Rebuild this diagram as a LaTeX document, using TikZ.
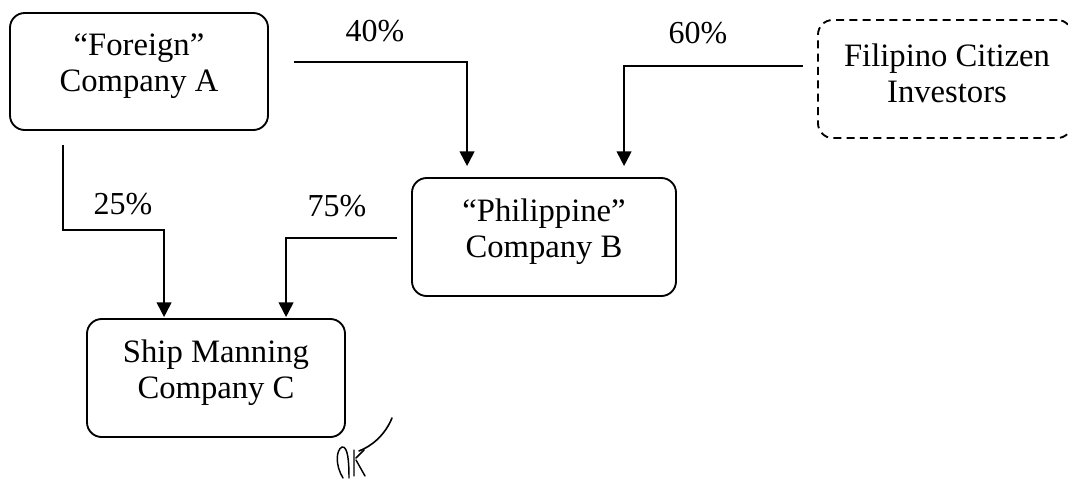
\documentclass[tikz,border=0pt]{standalone}
\usepackage{fontspec}
\setmainfont{Liberation Serif}
\usetikzlibrary{arrows.meta,calc}
\begin{document}
\begin{tikzpicture}[x=0.75pt,y=-0.75pt,
  company/.style={draw,line width=1.4pt,rounded corners=11pt,inner sep=0pt},
  investor/.style={company,dashed,dash pattern=on 6pt off 4pt},
  boxtext/.style={align=center,inner sep=0pt,font=\fontsize{24.5}{27}\selectfont},
  conn/.style={line width=1.4pt,-{Triangle[length=11pt,width=11pt]}},
  pct/.style={font=\fontsize{24}{24}\selectfont,inner sep=0pt}]
\useasboundingbox (0,0) rectangle (1068,483);
\node[company,minimum width=193.5pt,minimum height=87.75pt] (A) at (139,71.5) {};
\node[investor,minimum width=190.5pt,minimum height=88.5pt] (F) at (945,79) {};
\node[company,minimum width=198pt,minimum height=88.5pt] (B) at (544,237) {};
\node[company,minimum width=193.5pt,minimum height=88.5pt] (C) at (216,378) {};
\node[boxtext] (At) at ([yshift=4pt]A.center) {``Foreign''\\Company A};
\node[boxtext] (Ft) at ([shift={(2,4pt)}]F.center) {Filipino Citizen\\Investors};
\node[boxtext] (Bt) at ([yshift=4pt]B.center) {``Philippine''\\Company B};
\node[boxtext] (Ct) at ([yshift=4pt]C.center) {Ship Manning\\Company C};
% percentages
\node[pct] (p40) at (375,31) {40\%};
\node[pct] (p60) at (698,33) {60\%};
\node[pct] (p25) at (123,204) {25\%};
\node[pct] (p75) at (337,206) {75\%};
% connectors
\draw[conn] ([shift={(25,-9.5)}]A.east) -| ([shift={(56,-11)}]B.north west);
\draw[conn] ([shift={(-14,-13)}]F.west) -| ([shift={(213,-11)}]B.north west);
\draw[conn] ([shift={(54,14)}]A.south west) -- ++(0,85) -| ([shift={(78,-1)}]C.north west);
\draw[conn] ([shift={(-14,1)}]B.west) -| ([shift={(200,-1)}]C.north west);
% handwritten mark
\draw[line width=1.2pt,line cap=round] (392,418) .. controls (385,435) and (372,446) .. (359,451);
\draw[line width=1.1pt,line cap=round,line join=round] (343,478) .. controls (335,465) and (336,450) .. (342,447) .. controls (348,446) and (349,462) .. (349,478)
  (354,476) -- (354,450) (356,458) -- (364,450) (356,460) -- (365,476);
\end{tikzpicture}
\end{document}
